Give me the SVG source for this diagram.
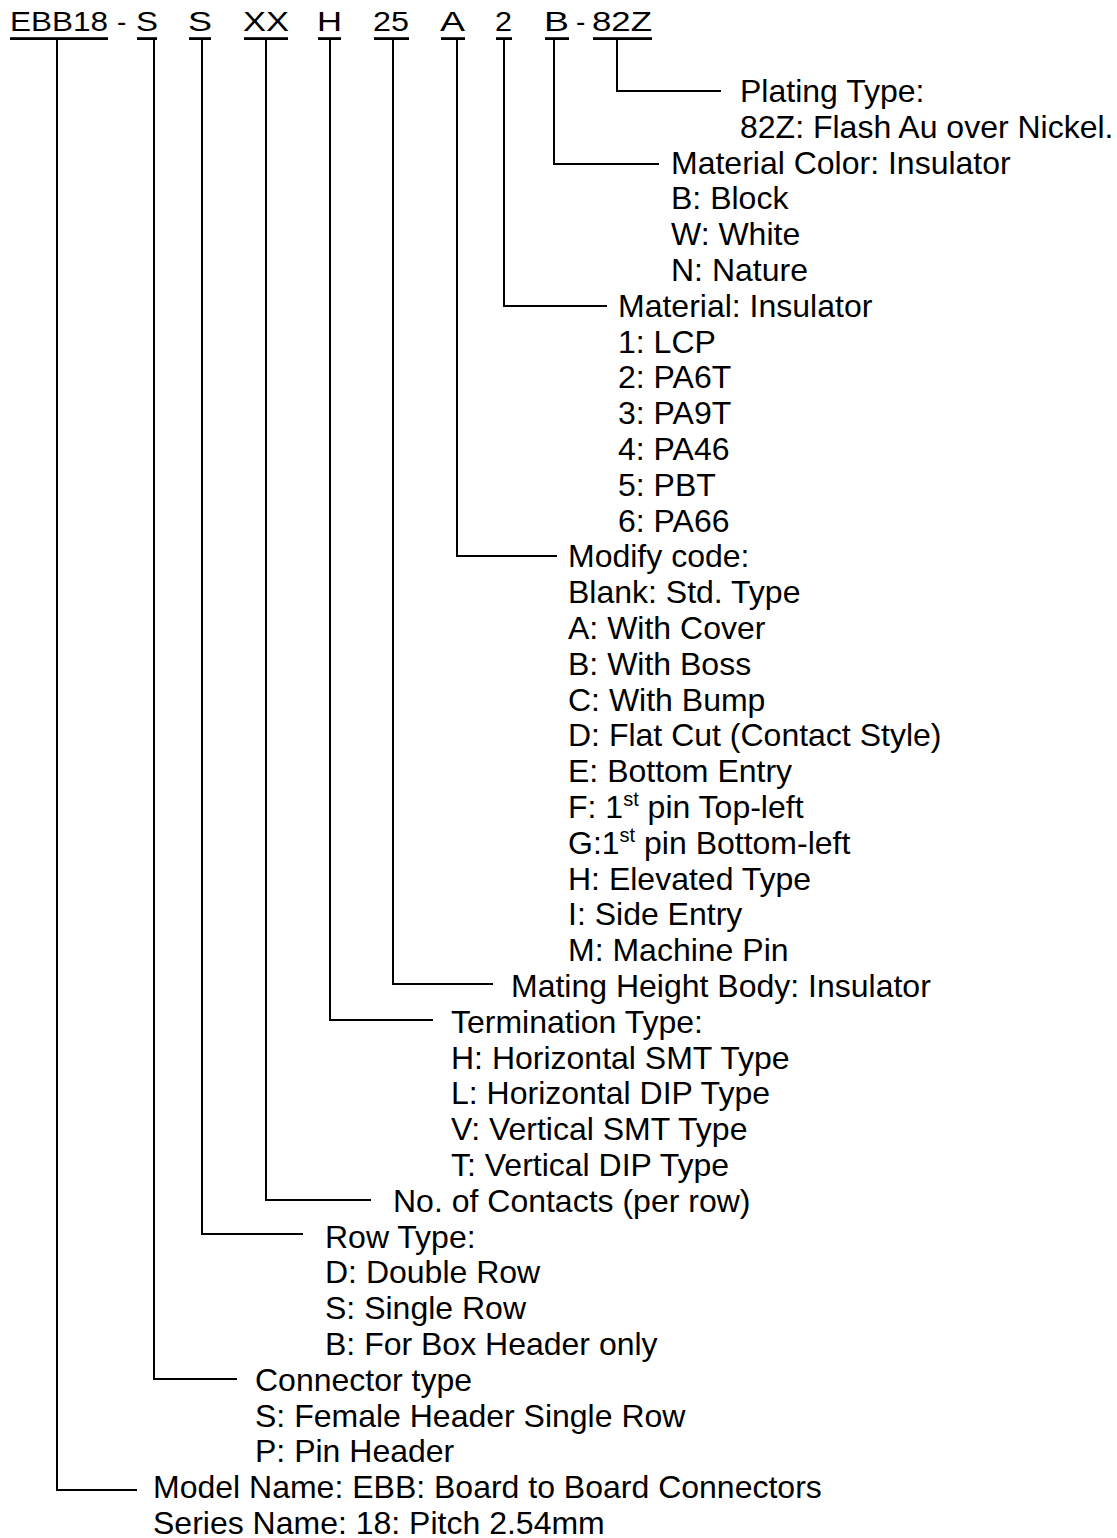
<svg xmlns="http://www.w3.org/2000/svg" width="1117" height="1538" viewBox="0 0 1117 1538">
<style>
  text { font-family: "Liberation Sans", Arial, sans-serif; fill: #000; }
  .h { font-size: 28px; }
  .t { font-size: 32px; }
  .sup { font-size: 20px; }
  .ul { fill: #000; }
  .c { fill: none; stroke: #000; stroke-width: 2; }
</style>
<rect width="1117" height="1538" fill="#fff"/>

<g id="header">
  <text class="h" x="10" y="30.5" textLength="98" lengthAdjust="spacingAndGlyphs">EBB18</text>
  <text class="h" x="117" y="30.5">-</text>
  <text class="h" x="136" y="30.5" textLength="22" lengthAdjust="spacingAndGlyphs">S</text>
  <text class="h" x="188" y="30.5" textLength="24" lengthAdjust="spacingAndGlyphs">S</text>
  <text class="h" x="243" y="30.5" textLength="46" lengthAdjust="spacingAndGlyphs">XX</text>
  <text class="h" x="317" y="30.5" textLength="25" lengthAdjust="spacingAndGlyphs">H</text>
  <text class="h" x="373" y="30.5" textLength="36" lengthAdjust="spacingAndGlyphs">25</text>
  <text class="h" x="440" y="30.5" textLength="25" lengthAdjust="spacingAndGlyphs">A</text>
  <text class="h" x="495" y="30.5" textLength="17" lengthAdjust="spacingAndGlyphs">2</text>
  <text class="h" x="544" y="30.5" textLength="25" lengthAdjust="spacingAndGlyphs">B</text>
  <text class="h" x="576" y="30.5">-</text>
  <text class="h" x="592" y="30.5" textLength="60" lengthAdjust="spacingAndGlyphs">82Z</text>
  <rect class="ul" x="10" y="37.2" width="98" height="2.8"/>
  <rect class="ul" x="137" y="37.2" width="20" height="2.8"/>
  <rect class="ul" x="189" y="37.2" width="22" height="2.8"/>
  <rect class="ul" x="244" y="37.2" width="44" height="2.8"/>
  <rect class="ul" x="318" y="37.2" width="23" height="2.8"/>
  <rect class="ul" x="374" y="37.2" width="35" height="2.8"/>
  <rect class="ul" x="441" y="37.2" width="24" height="2.8"/>
  <rect class="ul" x="496" y="37.2" width="16" height="2.8"/>
  <rect class="ul" x="545" y="37.2" width="24" height="2.8"/>
  <rect class="ul" x="593" y="37.2" width="59" height="2.8"/>
</g>

<g id="connectors">
  <path class="c" d="M617 40 V91 H721"/>
  <path class="c" d="M554 40 V164 H659"/>
  <path class="c" d="M504 40 V306 H607"/>
  <path class="c" d="M457 40 V556 H557"/>
  <path class="c" d="M393 40 V984 H493"/>
  <path class="c" d="M330 40 V1020 H433"/>
  <path class="c" d="M266 40 V1200 H371"/>
  <path class="c" d="M202 40 V1234 H303"/>
  <path class="c" d="M154 40 V1379 H237"/>
  <path class="c" d="M57 40 V1490 H137"/>
</g>

<g id="plating">
  <text class="t" x="740" y="102">Plating Type:</text>
  <text class="t" x="740" y="137.8">82Z: Flash Au over Nickel.</text>
</g>

<g id="material-color">
  <text class="t" x="671" y="173.6">Material Color: Insulator</text>
  <text class="t" x="671" y="209.4">B: Block</text>
  <text class="t" x="671" y="245.2">W: White</text>
  <text class="t" x="671" y="281">N: Nature</text>
</g>

<g id="material">
  <text class="t" x="618" y="316.8">Material: Insulator</text>
  <text class="t" x="618" y="352.6">1: LCP</text>
  <text class="t" x="618" y="388.4">2: PA6T</text>
  <text class="t" x="618" y="424.2">3: PA9T</text>
  <text class="t" x="618" y="460">4: PA46</text>
  <text class="t" x="618" y="495.8">5: PBT</text>
  <text class="t" x="618" y="531.6">6: PA66</text>
</g>

<g id="modify-code">
  <text class="t" x="568" y="567.4">Modify code:</text>
  <text class="t" x="568" y="603.2">Blank: Std. Type</text>
  <text class="t" x="568" y="639">A: With Cover</text>
  <text class="t" x="568" y="674.8">B: With Boss</text>
  <text class="t" x="568" y="710.6">C: With Bump</text>
  <text class="t" x="568" y="746.4">D: Flat Cut (Contact Style)</text>
  <text class="t" x="568" y="782.2">E: Bottom Entry</text>
  <text class="t" x="568" y="818">F: 1<tspan class="sup" dy="-12">st</tspan><tspan dy="12"> pin Top-left</tspan></text>
  <text class="t" x="568" y="853.8">G:1<tspan class="sup" dy="-12">st</tspan><tspan dy="12"> pin Bottom-left</tspan></text>
  <text class="t" x="568" y="889.6">H: Elevated Type</text>
  <text class="t" x="568" y="925.4">I: Side Entry</text>
  <text class="t" x="568" y="961.2">M: Machine Pin</text>
</g>

<g id="mating-height">
  <text class="t" x="511" y="997">Mating Height Body: Insulator</text>
</g>

<g id="termination">
  <text class="t" x="451" y="1032.8">Termination Type:</text>
  <text class="t" x="451" y="1068.6">H: Horizontal SMT Type</text>
  <text class="t" x="451" y="1104.4">L: Horizontal DIP Type</text>
  <text class="t" x="451" y="1140.2">V: Vertical SMT Type</text>
  <text class="t" x="451" y="1176">T: Vertical DIP Type</text>
</g>

<g id="contacts">
  <text class="t" x="393" y="1211.8">No. of Contacts (per row)</text>
</g>

<g id="row-type">
  <text class="t" x="325" y="1247.6">Row Type:</text>
  <text class="t" x="325" y="1283.4">D: Double Row</text>
  <text class="t" x="325" y="1319.2">S: Single Row</text>
  <text class="t" x="325" y="1355">B: For Box Header only</text>
</g>

<g id="connector-type">
  <text class="t" x="255" y="1390.8">Connector type</text>
  <text class="t" x="255" y="1426.6">S: Female Header Single Row</text>
  <text class="t" x="255" y="1462.4">P: Pin Header</text>
</g>

<g id="model">
  <text class="t" x="153" y="1498.2">Model Name: EBB: Board to Board Connectors</text>
  <text class="t" x="153" y="1534">Series Name: 18: Pitch 2.54mm</text>
</g>
</svg>
